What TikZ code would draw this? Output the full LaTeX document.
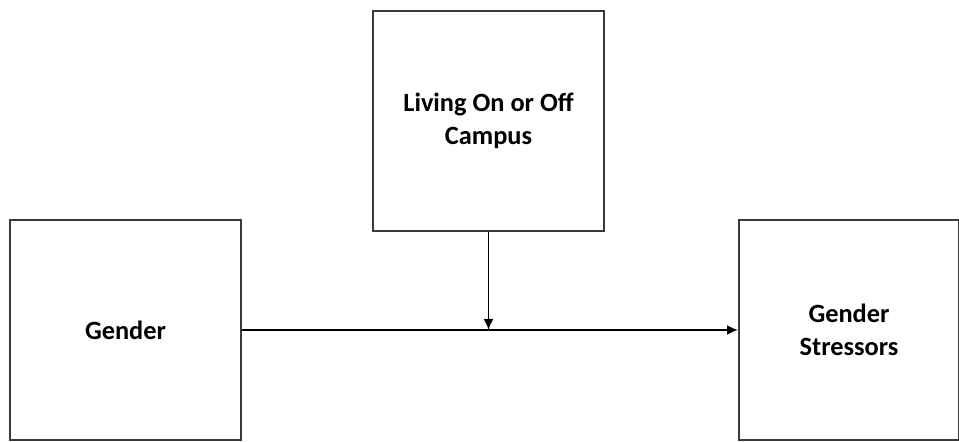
\documentclass[tikz,border=0pt]{standalone}
\usepackage{fontspec}
\setmainfont{Carlito}
\usetikzlibrary{arrows.meta, positioning, calc}
\definecolor{BoxGray}{HTML}{3A3A3A}
\tikzset{
  varbox/.style={draw=BoxGray, line width=1.1pt, fill=white, align=center, minimum width=4.62cm, minimum height=4.4cm, inner sep=4pt, font=\fontsize{15}{18.5}\selectfont\bfseries},
  arrow/.style={-{Latex[length=2.2mm, width=2mm]}, line width=1.1pt, draw=black}
}
\begin{document}
\begin{tikzpicture}
\useasboundingbox (0,0) rectangle (19.18,8.84);
\node[varbox] (gender) at (2.51,2.24) {Gender};
\node[varbox] (living) at (9.77,6.42) {Living On or Off\\Campus};
\node[varbox, minimum width=4.4cm] (stress) at (16.98,2.24) {Gender\\Stressors};
\coordinate (meet) at (living.south |- gender.east);
\draw[line width=1.1pt] (gender.east) -- (meet);
\draw[arrow] (meet) -- (stress.west);
\draw[arrow] (living.south) -- (meet);
\end{tikzpicture}
\end{document}
